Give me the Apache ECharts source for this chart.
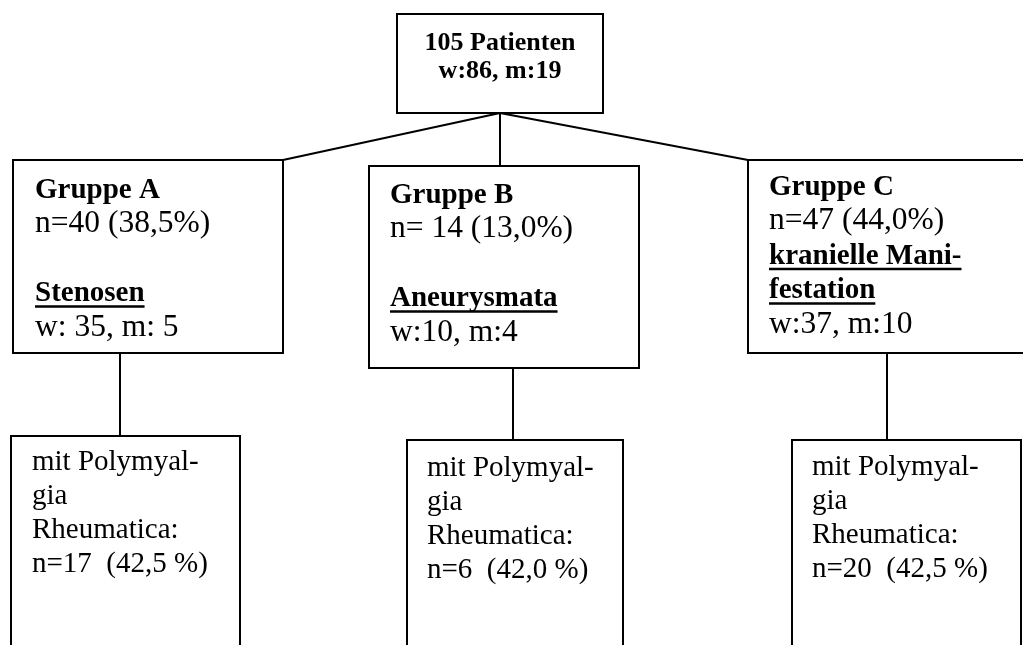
<!DOCTYPE html>
<html>
<head>
<meta charset="utf-8">
<script src="https://cdn.jsdelivr.net/npm/echarts@6/dist/echarts.min.js"></script>
<style>html,body{margin:0;padding:0;background:#fff}#chart{width:1023px;height:645px}</style>
</head>
<body>
<div id="chart"></div>
<script>
// texts of the tree
var rootLines = ['105 Patienten', 'w:86, m:19'];
var groupNames = ['Gruppe A', 'Gruppe B', 'Gruppe C'];
var groupCounts = ['n=40 (38,5%)', 'n= 14 (13,0%)', 'n=47 (44,0%)'];
var groupTypes = [['Stenosen'], ['Aneurysmata'], ['kranielle Mani-', 'festation']];
var groupSex = ['w: 35, m: 5', 'w:10, m:4', 'w:37, m:10'];
var pmrLines = ['mit Polymyal-', 'gia', 'Rheumatica:'];
var pmrCounts = ['n=17  (42,5 %)', 'n=6  (42,0 %)', 'n=20  (42,5 %)'];

// layout, in axis units (x 0..1023, y 0..645 from the top)
var rootBox = [397, 14, 603, 113];
var rootBase = [52, 80];
var groupBoxes = [[13, 160, 283, 353], [369, 166, 639, 368], [748, 160, 1040, 353]];
var groupText = [[35, 200], [390, 205], [769, 197]];
var pmrBoxes = [[11, 436, 240, 670], [407, 440, 623, 670], [792, 440, 1021, 670]];
var pmrText = [[32, 472], [427, 478], [812, 477]];
var links = [
  [[500, 113], [283, 160]], [[500, 113], [500, 166]], [[500, 113], [748, 160]],
  [[120, 353], [120, 436]], [[513, 368], [513, 440]], [[887, 353], [887, 440]]
];

var FAMILY = '"Liberation Serif", "Times New Roman", serif';
var cv = document.createElement('canvas').getContext('2d');
function measure(t, font) { cv.font = font; return cv.measureText(t).width; }

var nodes = [];
nodes.push({
  box: rootBox,
  lines: rootLines.map(function (t, i) {
    return { t: t, bold: true, size: 26, x: (rootBox[0] + rootBox[2]) / 2, y: rootBase[i], align: 'center' };
  })
});
groupNames.forEach(function (name, g) {
  var rows = [{ t: name, bold: true }, { t: groupCounts[g] }];
  if (groupTypes[g].length === 1) rows.push({ t: '' });
  groupTypes[g].forEach(function (t) { rows.push({ t: t, bold: true, ul: true }); });
  rows.push({ t: groupSex[g] });
  rows.forEach(function (r, i) {
    r.size = r.bold ? 29 : 31.5; r.align = 'left';
    r.x = groupText[g][0]; r.y = groupText[g][1] + i * 34.5;
  });
  nodes.push({ box: groupBoxes[g], lines: rows });
});
pmrCounts.forEach(function (cnt, g) {
  var rows = pmrLines.map(function (t) { return { t: t }; }).concat([{ t: cnt }]);
  rows.forEach(function (r, i) {
    r.size = 29; r.align = 'left';
    r.x = pmrText[g][0]; r.y = pmrText[g][1] + i * 34;
  });
  nodes.push({ box: pmrBoxes[g], lines: rows });
});

function renderNode(params, api) {
  var node = nodes[api.value(0)];
  var p0 = api.coord([node.box[0], node.box[1]]);
  var p1 = api.coord([node.box[2], node.box[3]]);
  var children = [{
    type: 'rect',
    shape: { x: p0[0], y: p0[1], width: p1[0] - p0[0], height: p1[1] - p0[1] },
    style: { fill: '#fff', stroke: '#000', lineWidth: 2 }
  }];
  node.lines.forEach(function (ln) {
    if (!ln.t) return;
    var p = api.coord([ln.x, ln.y]);
    var font = (ln.bold ? 'bold ' : '') + ln.size + 'px ' + FAMILY;
    children.push({
      type: 'text', x: p[0], y: p[1] - 0.34 * ln.size,
      style: { text: ln.t, font: font, fill: '#000', align: ln.align, verticalAlign: 'middle' }
    });
    if (ln.ul) {
      var w = measure(ln.t, font);
      children.push({
        type: 'line',
        shape: { x1: p[0], y1: p[1] + 3, x2: p[0] + w, y2: p[1] + 3 },
        style: { stroke: '#000', lineWidth: 2.5 }
      });
    }
  });
  return { type: 'group', children: children };
}

var myChart = echarts.init(document.getElementById('chart'));
var option = {
  animation: false,
  backgroundColor: '#fff',
  grid: { left: 0, right: 0, top: 0, bottom: 0 },
  xAxis: { type: 'value', min: 0, max: 1023, show: false },
  yAxis: { type: 'value', min: 0, max: 645, inverse: true, show: false },
  series: [
    {
      type: 'lines',
      coordinateSystem: 'cartesian2d',
      silent: true,
      z: 1,
      lineStyle: { color: '#000', width: 2, opacity: 1 },
      data: links.map(function (c) { return { coords: c }; })
    },
    {
      type: 'custom',
      silent: true,
      z: 2,
      clip: false,
      renderItem: renderNode,
      data: nodes.map(function (n, i) { return [i]; })
    }
  ]
};
myChart.setOption(option);

window.onresize = function () { myChart.resize(); };
</script>
</body>
</html>
